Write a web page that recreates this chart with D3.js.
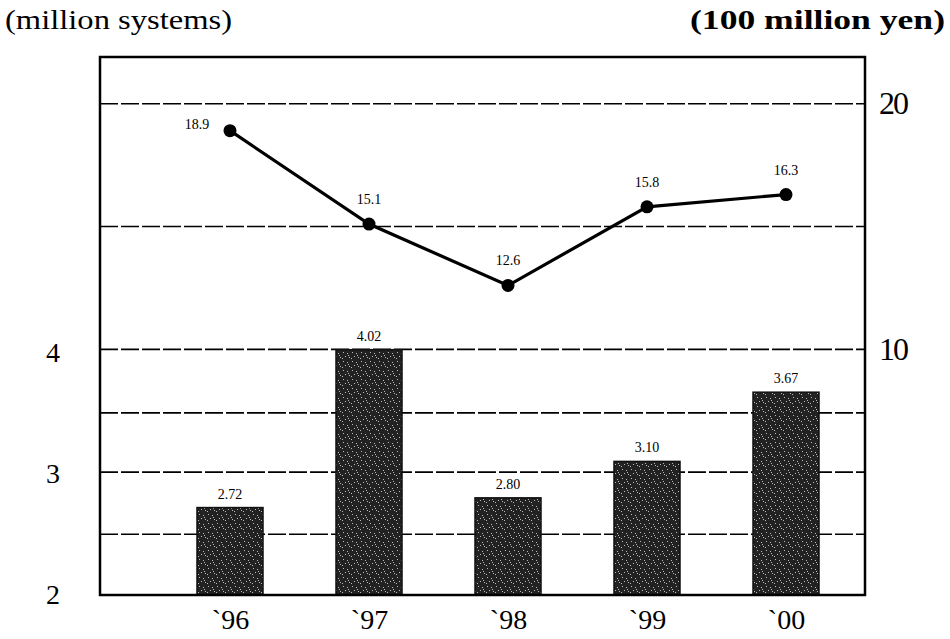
<!DOCTYPE html>
<html><head><meta charset="utf-8">
<script src="https://cdn.jsdelivr.net/npm/d3@7"></script>
<style>body{margin:0;background:#fff}svg{display:block}</style>
</head><body>
<script>
const categories = ["`96", "`97", "`98", "`99", "`00"];
const systems = [2.72, 4.02, 2.80, 3.10, 3.67];      // million systems (bars, left axis)
const yen = [18.9, 15.1, 12.6, 15.8, 16.3];          // 100 million yen (line, right axis)
const leftTicks = [2, 3, 4];
const rightTicks = [10, 20];
const leftGrid = [2.5, 3.5];
const rightGrid = [5, 10, 15, 20];

const W = 950, H = 639;
const L = 100, R = 865, T = 57, B = 595;
const svg = d3.select("body").append("svg").attr("width", W).attr("height", H);
const serif = "'Liberation Serif','DejaVu Serif',serif";

const yL = d3.scaleLinear().domain([2, 6.43]).range([B, T]);
const yR = d3.scaleLinear().domain([0, 21.9]).range([B, T]);
const x = d3.scalePoint().domain(categories).range([L + 130, R - 79]);

// speckle pattern for bars
const defs = svg.append("defs");
const pat = defs.append("pattern").attr("id", "speck").attr("patternUnits", "userSpaceOnUse")
  .attr("width", 9).attr("height", 9);
pat.append("rect").attr("width", 9).attr("height", 9).attr("fill", "#222");
[[1,1],[5,2],[3,5],[7,6],[0,7],[6,4]].forEach(([a,b]) =>
  pat.append("rect").attr("x", a).attr("y", b).attr("width", 1).attr("height", 1).attr("fill", "#bbb"));

// gridlines
const grid = svg.append("g");
grid.selectAll("line.r").data(rightGrid).join("line")
  .attr("x1", L).attr("x2", R).attr("y1", d => yR(d)).attr("y2", d => yR(d))
  .attr("stroke", "#000").attr("stroke-width", 1.6).attr("stroke-dasharray", "18,3");
grid.selectAll("line.l").data(leftGrid).join("line")
  .attr("x1", L).attr("x2", R).attr("y1", d => yL(d)).attr("y2", d => yL(d))
  .attr("stroke", "#000").attr("stroke-width", 1.6).attr("stroke-dasharray", "18,3");

// bars
const bw = 66;
svg.append("g").selectAll("rect").data(systems).join("rect")
  .attr("x", (d, i) => x(categories[i]) - bw / 2)
  .attr("y", d => yL(d))
  .attr("width", bw)
  .attr("height", d => B - yL(d))
  .attr("fill", "url(#speck)")
  .attr("stroke", "#111").attr("stroke-width", 1.5);

svg.append("g").selectAll("text").data(systems).join("text")
  .attr("x", (d, i) => x(categories[i]))
  .attr("y", d => yL(d) - 9)
  .attr("text-anchor", "middle").attr("fill", "#000")
  .attr("font-family", serif).attr("font-size", 14)
  .text(d => d.toFixed(2));

// line
const line = d3.line().x((d, i) => x(categories[i])).y(d => yR(d));
svg.append("path").datum(yen).attr("d", line)
  .attr("fill", "none").attr("stroke", "#000").attr("stroke-width", 3.2);
svg.append("g").selectAll("circle").data(yen).join("circle")
  .attr("cx", (d, i) => x(categories[i])).attr("cy", d => yR(d)).attr("r", 6.5).attr("fill", "#000");
svg.append("g").selectAll("text").data(yen).join("text")
  .attr("x", (d, i) => x(categories[i]) + (i === 0 ? -33 : 0))
  .attr("y", (d, i) => yR(d) - (i === 0 ? 2 : 20))
  .attr("text-anchor", "middle").attr("fill", "#000")
  .attr("font-family", serif).attr("font-size", 14)
  .text(d => d.toFixed(1));

// frame
svg.append("rect").attr("x", L).attr("y", T).attr("width", R - L).attr("height", B - T)
  .attr("fill", "none").attr("stroke", "#000").attr("stroke-width", 2.5);

// axes (labels only)
const axL = svg.append("g").attr("transform", `translate(${L},0)`)
  .call(d3.axisLeft(yL).tickValues(leftTicks).tickSize(0).tickPadding(40).tickFormat(d3.format("d")));
axL.select(".domain").remove();
axL.selectAll("text").attr("font-family", serif).attr("font-size", 28).attr("fill", "#000");

const axR = svg.append("g").attr("transform", `translate(${R},0)`)
  .call(d3.axisRight(yR).tickValues(rightTicks).tickSize(0).tickPadding(14).tickFormat(d3.format("d")));
axR.select(".domain").remove();
axR.selectAll("text").attr("font-family", serif).attr("font-size", 32).attr("fill", "#000")
  .attr("letter-spacing", -2);

const axB = svg.append("g").attr("transform", `translate(0,${B})`)
  .call(d3.axisBottom(x).tickSize(0).tickPadding(14));
axB.select(".domain").remove();
axB.selectAll("text").attr("font-family", serif).attr("font-size", 28).attr("fill", "#000");

// unit titles
svg.append("text").attr("x", 5).attr("y", 29).attr("font-family", serif).attr("font-size", 27)
  .attr("fill", "#000").attr("textLength", 227).attr("lengthAdjust", "spacingAndGlyphs")
  .text("(million systems)");
svg.append("text").attr("x", 945).attr("y", 29).attr("text-anchor", "end")
  .attr("font-family", serif).attr("font-size", 27).attr("font-weight", "bold").attr("fill", "#000")
  .attr("textLength", 255).attr("lengthAdjust", "spacingAndGlyphs")
  .text("(100 million yen)");
</script>
</body></html>
